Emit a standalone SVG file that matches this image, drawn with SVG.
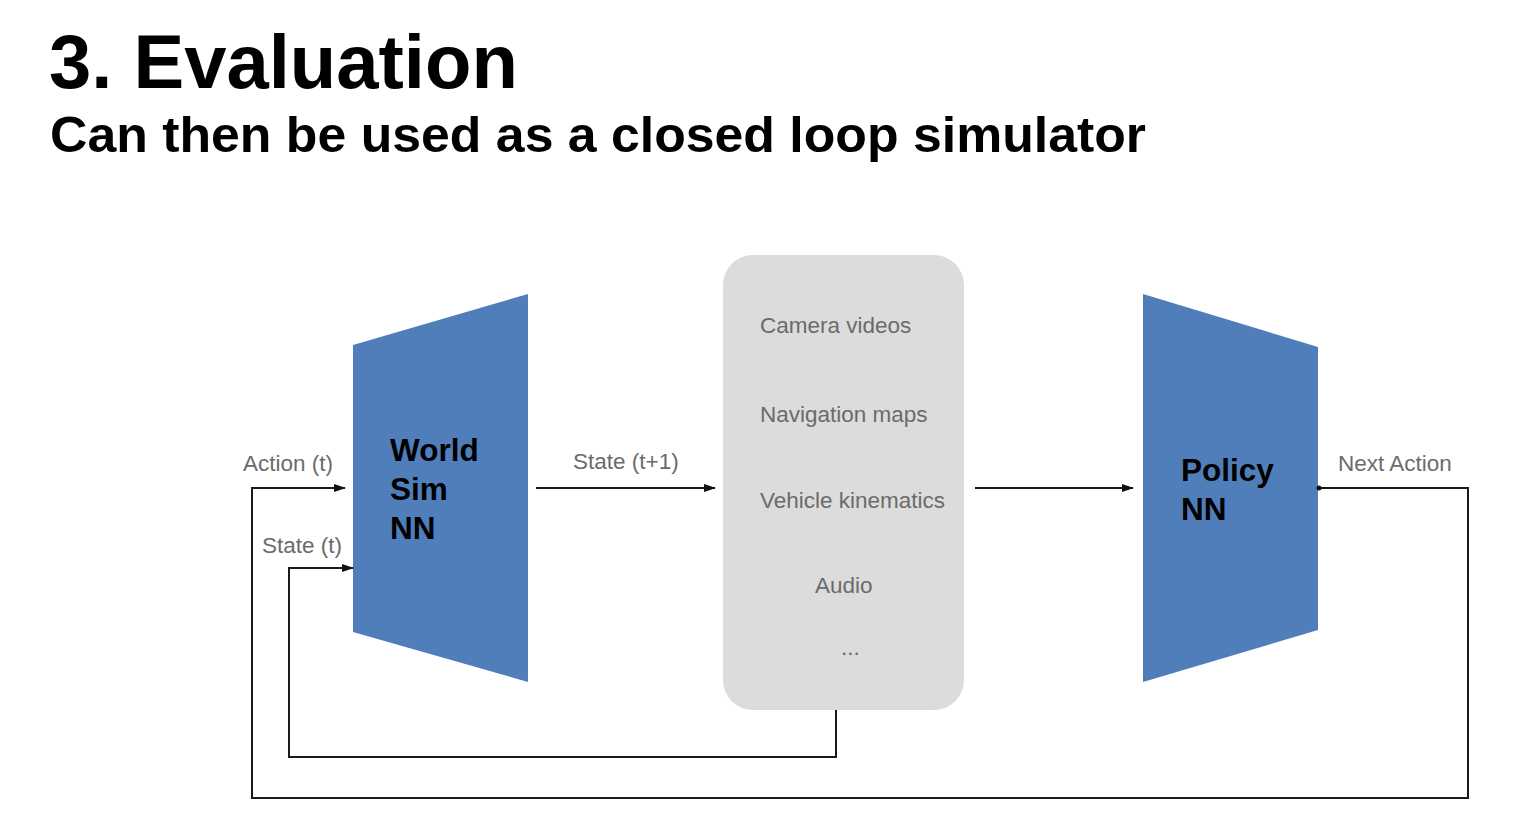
<svg xmlns="http://www.w3.org/2000/svg" width="1536" height="823" viewBox="0 0 1536 823">
<defs>
<style>
.title{font-family:"Liberation Sans",Arial,sans-serif;font-weight:bold;fill:#000}
.nn{font-family:"Liberation Sans",Arial,sans-serif;font-weight:bold;font-size:31.5px;fill:#000}
.lbl{font-family:"Liberation Sans",Arial,sans-serif;font-size:22.5px;fill:#6b6b6b}
.trap{fill:#4F7EBB}
.conn{fill:none;stroke:#1a1a1a;stroke-width:2}
</style>
<marker id="arr" markerWidth="12" markerHeight="10" refX="11" refY="5" orient="auto" markerUnits="userSpaceOnUse">
<path d="M0,1 L12,5 L0,9 Z" fill="#111"/>
</marker>
</defs>
<rect width="1536" height="823" fill="#fff"/>
<text class="title" x="49" y="88" font-size="76">3. Evaluation</text>
<text class="title" x="50" y="152" font-size="50" textLength="1096" lengthAdjust="spacingAndGlyphs">Can then be used as a closed loop simulator</text>

<g id="world-sim">
<polygon class="trap" points="353,345 528,294 528,682 353,632"/>
<text class="nn" x="390" y="461">World</text>
<text class="nn" x="390" y="500">Sim</text>
<text class="nn" x="390" y="539">NN</text>
</g>

<g id="state-box">
<rect x="723" y="255" width="241" height="455" rx="30" fill="#DCDCDC"/>
<text class="lbl" x="760" y="333">Camera videos</text>
<text class="lbl" x="760" y="422">Navigation maps</text>
<text class="lbl" x="760" y="508">Vehicle kinematics</text>
<text class="lbl" x="815" y="593">Audio</text>
<text class="lbl" x="841" y="655">...</text>
</g>

<g id="policy">
<polygon class="trap" points="1143,294 1318,347 1318,630 1143,682"/>
<text class="nn" x="1181" y="481">Policy</text>
<text class="nn" x="1181" y="520">NN</text>
</g>

<g id="connectors">
<path class="conn" d="M1318,488 H1468 V798 H252 V488 H345" marker-end="url(#arr)"/>
<circle cx="1319" cy="488" r="2.5" fill="#111"/>
<path class="conn" d="M836,710 V757 H289 V568 H353" marker-end="url(#arr)"/>
<path class="conn" d="M536,488 H715" marker-end="url(#arr)"/>
<path class="conn" d="M975,488 H1133" marker-end="url(#arr)"/>
</g>

<g id="labels">
<text class="lbl" x="243" y="471">Action (t)</text>
<text class="lbl" x="262" y="553">State (t)</text>
<text class="lbl" x="573" y="469">State (t+1)</text>
<text class="lbl" x="1338" y="471">Next Action</text>
</g>
</svg>
